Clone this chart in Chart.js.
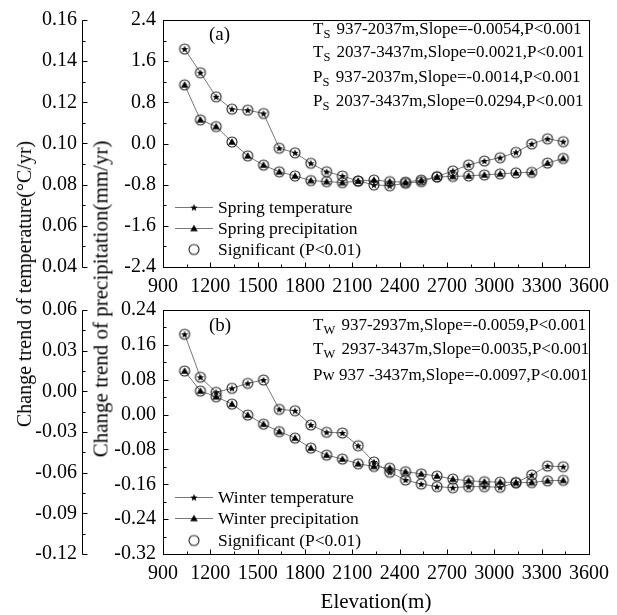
<!DOCTYPE html>
<html>
<head>
<meta charset="utf-8">
<script src="https://cdn.jsdelivr.net/npm/chart.js@4/dist/chart.umd.min.js"></script>
<style>
  body { margin: 0; background: #fff; }
  #wrap { position: relative; width: 617px; height: 615px; background: #fff; overflow: hidden; }
  .panel { position: absolute; left: 0; width: 617px; }
  .ytitle { position: absolute; white-space: nowrap; font-family: "Liberation Serif", serif; color: #000;
            transform: translate(-50%, -50%) rotate(-90deg); line-height: 1; }
</style>
</head>
<body>
<div id="wrap">
  <div class="panel" style="top:0;height:300px"><canvas id="springChart"></canvas></div>
  <div class="panel" style="top:290px;height:325px"><canvas id="winterChart"></canvas></div>
  <div class="ytitle" style="left:24px;top:284px;font-size:20px">Change trend of temperature(°C/yr)</div>
  <div class="ytitle" style="left:101px;top:299px;font-size:21px">Change trend of precipitation(mm/yr)</div>
</div>
<script>
// elevation band centres (m)
const elevations = [1037, 1137, 1237, 1337, 1437, 1537, 1637, 1737, 1837, 1937, 2037, 2137, 2237,
                    2337, 2437, 2537, 2637, 2737, 2837, 2937, 3037, 3137, 3237, 3337, 3437];

const springTemp = [0.1459, 0.1344, 0.1227, 0.1167, 0.1162, 0.1146, 0.0977, 0.0955, 0.0904, 0.0863, 0.0842, 0.0818, 0.0799,
                    0.0795, 0.0807, 0.0815, 0.0839, 0.0867, 0.0896, 0.0915, 0.0931, 0.0957, 0.0998, 0.1023, 0.1009];
const springPrecip = [1.14, 0.46, 0.33, 0.03, -0.24, -0.42, -0.55, -0.63, -0.72, -0.74, -0.76, -0.73, -0.71,
                      -0.74, -0.75, -0.71, -0.65, -0.64, -0.63, -0.61, -0.59, -0.57, -0.56, -0.38, -0.29];

const winterTemp = [0.0421, 0.0104, -0.0007, 0.0022, 0.0059, 0.0084, -0.0133, -0.0143, -0.0248, -0.0302, -0.0307, -0.0401, -0.0521,
                    -0.0597, -0.0654, -0.0684, -0.0703, -0.0711, -0.0703, -0.0703, -0.0708, -0.0674, -0.0617, -0.0551, -0.0556];
const winterPrecip = [0.100, 0.054, 0.041, 0.024, -0.001, -0.022, -0.039, -0.054, -0.077, -0.093, -0.102, -0.113, -0.119,
                      -0.123, -0.131, -0.136, -0.141, -0.148, -0.152, -0.154, -0.155, -0.156, -0.156, -0.152, -0.151];

const xTicks = [900, 1200, 1500, 1800, 2100, 2400, 2700, 3000, 3300, 3600];
const springTempTicks = [0.04, 0.06, 0.08, 0.10, 0.12, 0.14, 0.16];
const springPrecipTicks = [-2.4, -1.6, -0.8, 0.0, 0.8, 1.6, 2.4];
const winterTempTicks = [-0.12, -0.09, -0.06, -0.03, 0.00, 0.03, 0.06];
const winterPrecipTicks = [-0.32, -0.24, -0.16, -0.08, 0.00, 0.08, 0.16, 0.24];

const springStats = [
  ['T', 'S', ' 937-2037m,Slope=-0.0054,P<0.001'],
  ['T', 'S', ' 2037-3437m,Slope=0.0021,P<0.001'],
  ['P', 'S', ' 937-2037m,Slope=-0.0014,P<0.001'],
  ['P', 'S', ' 2037-3437m,Slope=0.0294,P<0.001']
];
const winterStats = [
  ['T', 'W', ' 937-2937m,Slope=-0.0059,P<0.001'],
  ['T', 'W', ' 2937-3437m,Slope=0.0035,P<0.001'],
  ['Pw', '', ' 937 -3437m,Slope=-0.0097,P<0.001']
];

const FONT = '"Liberation Serif", "Times New Roman", serif';

function markerImage(kind, withCircle) {
  const c = document.createElement('canvas');
  c.width = 14; c.height = 14;
  const g = c.getContext('2d');
  const cx = 7, cy = 7;
  if (withCircle) {
    g.beginPath();
    g.arc(cx, cy, 5, 0, Math.PI * 2);
    g.strokeStyle = '#222';
    g.lineWidth = 1.1;
    g.stroke();
  }
  g.fillStyle = '#000';
  g.beginPath();
  if (kind === 'star') {
    for (let i = 0; i < 10; i++) {
      const r = i % 2 ? 1.7 : 3.8;
      const a = -Math.PI / 2 + i * Math.PI / 5;
      const px = cx + r * Math.cos(a), py = cy + 0.3 + r * Math.sin(a);
      if (i === 0) g.moveTo(px, py); else g.lineTo(px, py);
    }
    g.closePath();
    g.fill();
  } else if (kind === 'triangle') {
    g.moveTo(cx, cy - 3.8);
    g.lineTo(cx + 3.8, cy + 2.7);
    g.lineTo(cx - 3.8, cy + 2.7);
    g.closePath();
    g.fill();
  }
  return c;
}

const starPt = markerImage('star', true);
const triPt = markerImage('triangle', true);
const starLeg = markerImage('star', false);
const triLeg = markerImage('triangle', false);
const circLeg = markerImage('none', true);

function hline(ctx, x1, x2, y) { ctx.beginPath(); ctx.moveTo(x1, y); ctx.lineTo(x2, y); ctx.stroke(); }
function vline(ctx, x, y1, y2) { ctx.beginPath(); ctx.moveTo(x, y1); ctx.lineTo(x, y2); ctx.stroke(); }

function drawYTicks(ctx, scale, ticks, x) {
  ticks.forEach((v, i) => {
    const y = Math.round(scale.getPixelForValue(v)) + 0.5;
    hline(ctx, x, x + 5, y);
    if (i < ticks.length - 1) {
      const ym = Math.round(scale.getPixelForValue((v + ticks[i + 1]) / 2)) + 0.5;
      hline(ctx, x, x + 3, ym);
    }
  });
}

// frame, inward ticks, legend and text block
const panelDeco = {
  id: 'panelDeco',
  afterDraw(chart, args, o) {
    const ctx = chart.ctx, a = chart.chartArea;
    const xs = chart.scales.x, yT = chart.scales.yT, yP = chart.scales.yP;
    ctx.save();
    ctx.strokeStyle = '#000';
    ctx.lineWidth = 1;
    const L = Math.round(a.left) + 0.5, R = Math.round(a.right) + 0.5;
    const T = Math.round(a.top) + 0.5, B = Math.round(a.bottom) + 0.5;
    ctx.strokeRect(L, T, R - L, B - T);
    const ox = Math.round(yT.right) + 0.5;
    vline(ctx, ox, T, B);
    drawYTicks(ctx, yT, o.tempTicks, ox);
    drawYTicks(ctx, yP, o.precipTicks, L);
    xTicks.forEach((v, i) => {
      const x = Math.round(xs.getPixelForValue(v)) + 0.5;
      vline(ctx, x, B, B - 5);
      if (i < xTicks.length - 1) {
        const xm = Math.round(xs.getPixelForValue((v + xTicks[i + 1]) / 2)) + 0.5;
        vline(ctx, xm, B, B - 3);
      }
    });

    ctx.fillStyle = '#000';
    ctx.textBaseline = 'middle';
    ctx.textAlign = 'left';
    ctx.font = '19px ' + FONT;
    ctx.fillText(o.tag, a.left + 46, a.top + o.tagY);

    o.stats.forEach((s, i) => {
      let tx = a.left + 150;
      const ty = a.top + o.statY[i];
      ctx.font = '17px ' + FONT;
      ctx.fillText(s[0], tx, ty);
      tx += ctx.measureText(s[0]).width;
      if (s[1]) {
        ctx.font = '12.5px ' + FONT;
        ctx.fillText(s[1], tx, ty + 5);
        tx += ctx.measureText(s[1]).width + 2;
      }
      ctx.font = '17px ' + FONT;
      ctx.fillText(s[2], tx, ty);
    });

    const legendImgs = [starLeg, triLeg, circLeg];
    o.legend.forEach((label, i) => {
      const ly = Math.round(a.bottom + o.legendY[i]);
      if (i < 2) {
        ctx.strokeStyle = '#777';
        hline(ctx, a.left + 12, a.left + 50, ly + 0.5);
      }
      const img = legendImgs[i];
      ctx.drawImage(img, a.left + 31 - img.width / 2, ly - img.height / 2 + 0.5);
      ctx.font = '17.5px ' + FONT;
      ctx.fillStyle = '#000';
      ctx.fillText(label, a.left + 55, ly + 1);
    });
    ctx.restore();
  }
};

function yAxis(ticks, weight, width, digits, pad) {
  return {
    type: 'linear',
    position: 'left',
    weight: weight,
    min: ticks[0],
    max: ticks[ticks.length - 1],
    afterBuildTicks: s => { s.ticks = ticks.map(v => ({ value: v })); },
    afterFit: s => { s.width = width; },
    grid: { display: false, drawTicks: false },
    border: { display: false },
    ticks: {
      color: '#000',
      font: { family: FONT, size: 20 },
      padding: pad,
      callback: v => v.toFixed(digits)
    }
  };
}

function gerar_painel(id, temp, precip, names, tempTicks, precipTicks, tDigits, pDigits, deco, axisHeight, xTitle) {
  const tempPts = elevations.map((e, i) => ({ x: e, y: temp[i] }));
  const precipPts = elevations.map((e, i) => ({ x: e, y: precip[i] }));
  deco.tempTicks = tempTicks;
  deco.precipTicks = precipTicks;
  new Chart(document.getElementById(id), {
    type: 'line',
    data: {
      datasets: [{
          label: names[1],
          data: precipPts,
          yAxisID: 'yP',
          borderColor: '#777',
          borderWidth: 1,
          pointStyle: triPt,
          pointRadius: 5,
          fill: false,
          tension: 0
        }, {
          label: names[0],
          data: tempPts,
          yAxisID: 'yT',
          borderColor: '#777',
          borderWidth: 1,
          pointStyle: starPt,
          pointRadius: 5,
          fill: false,
          tension: 0
        }
      ]
    },
    options: {
      responsive: true,
      maintainAspectRatio: false,
      animation: false,
      devicePixelRatio: 1,
      layout: { padding: { top: 20, right: 23, left: 0, bottom: 0 } },
      scales: {
        x: {
          type: 'linear',
          min: 900,
          max: 3600,
          afterBuildTicks: s => { s.ticks = xTicks.map(v => ({ value: v })); },
          afterFit: s => { s.height = axisHeight; },
          grid: { display: false, drawTicks: false },
          border: { display: false },
          ticks: {
            color: '#000',
            font: { family: FONT, size: 20 },
            padding: 8,
            maxRotation: 0,
            callback: v => String(v)
          },
          title: {
            display: !!xTitle,
            text: xTitle || '',
            color: '#000',
            font: { family: FONT, size: 21 },
            padding: { top: 3, bottom: 0 }
          }
        },
        yT: yAxis(tempTicks, 1, 82, tDigits, 5),
        yP: yAxis(precipTicks, 0, 81, pDigits, 7)
      },
      plugins: {
        legend: { display: false },
        tooltip: { enabled: false },
        panelDeco: deco
      }
    },
    plugins: [panelDeco]
  });
}

gerar_painel('springChart', springTemp, springPrecip,
  ['Spring temperature', 'Spring precipitation'],
  springTempTicks, springPrecipTicks, 2, 1,
  { tag: '(a)', tagY: 15, stats: springStats, statY: [10, 33, 58, 82],
    legend: ['Spring temperature', 'Spring precipitation', 'Significant (P<0.01)'], legendY: [-60, -39, -18] },
  33, '');

gerar_painel('winterChart', winterTemp, winterPrecip,
  ['Winter temperature', 'Winter precipitation'],
  winterTempTicks, winterPrecipTicks, 2, 2,
  { tag: '(b)', tagY: 16, stats: winterStats, statY: [16, 40, 66],
    legend: ['Winter temperature', 'Winter precipitation', 'Significant (P<0.01)'], legendY: [-57, -36, -14] },
  61, 'Elevation(m)');
</script>
</body>
</html>
